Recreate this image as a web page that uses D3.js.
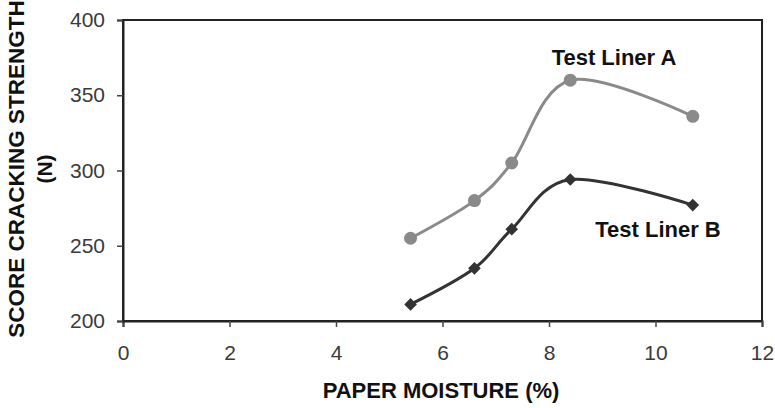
<!DOCTYPE html>
<html>
<head>
<meta charset="utf-8">
<script src="https://cdn.jsdelivr.net/npm/d3@7"></script>
<style>
  body { margin: 0; background: #fff; }
  svg { font-family: "Liberation Sans", Arial, sans-serif; }
</style>
</head>
<body>
<div class="chart"></div>
<script>
// data
const moisture = [5.4, 6.6, 7.3, 8.4, 10.7];
const linerA = [255, 280, 305, 360, 336];
const linerB = [211, 235, 261, 294, 277];
const xTicks = [0, 2, 4, 6, 8, 10, 12];
const yTicks = [200, 250, 300, 350, 400];

const width = 775, height = 408;
const margin = { top: 20, right: 13, bottom: 87, left: 123 };

const svg = d3.select('.chart').append('svg')
    .attr('width', width)
    .attr('height', height);

const xScale = d3.scaleLinear()
    .domain([0, 12])
    .range([margin.left, width - margin.right]);

const yScale = d3.scaleLinear()
    .domain([200, 400])
    .range([height - margin.bottom, margin.top]);

// plot box
svg.append('rect')
    .attr('x', xScale(0))
    .attr('y', yScale(400))
    .attr('width', xScale(12) - xScale(0))
    .attr('height', yScale(200) - yScale(400))
    .attr('fill', 'none')
    .attr('stroke', '#222')
    .attr('stroke-width', 2);

const xAxis = svg.append('g')
    .attr('class', 'x-axis')
    .attr('transform', `translate(0, ${yScale(200)})`)
    .call(d3.axisBottom(xScale).tickValues(xTicks).tickSize(6).tickPadding(18).tickFormat(d3.format('d')));

const yAxis = svg.append('g')
    .attr('class', 'y-axis')
    .attr('transform', `translate(${xScale(0)}, 0)`)
    .call(d3.axisLeft(yScale).tickValues(yTicks).tickSize(6).tickPadding(12).tickFormat(d3.format('d')));

[xAxis, yAxis].forEach(g => {
    g.select('.domain').attr('stroke', '#222').attr('stroke-width', 2);
    g.selectAll('.tick line').attr('stroke', '#444').attr('stroke-width', 1.5);
    g.selectAll('.tick text')
        .attr('fill', '#3a3a3a')
        .style('font-size', '21px');
});

const pts = s => moisture.map((m, i) => [m, s[i]]);

const line = d3.line()
    .x(d => xScale(d[0]))
    .y(d => yScale(d[1]))
    .curve(d3.curveCardinal.tension(0));

// Test Liner A
svg.append('path')
    .datum(pts(linerA))
    .attr('d', line)
    .attr('fill', 'none')
    .attr('stroke', '#8a8a8a')
    .attr('stroke-width', 3);

svg.selectAll('.pt-a')
    .data(pts(linerA))
    .join('circle')
    .attr('class', 'pt-a')
    .attr('cx', d => xScale(d[0]))
    .attr('cy', d => yScale(d[1]))
    .attr('r', 6.5)
    .attr('fill', '#8a8a8a');

// Test Liner B
svg.append('path')
    .datum(pts(linerB))
    .attr('d', line)
    .attr('fill', 'none')
    .attr('stroke', '#333')
    .attr('stroke-width', 3);

svg.selectAll('.pt-b')
    .data(pts(linerB))
    .join('path')
    .attr('class', 'pt-b')
    .attr('transform', d => `translate(${xScale(d[0])}, ${yScale(d[1])}) rotate(45)`)
    .attr('d', d3.symbol(d3.symbolSquare, 80))
    .attr('fill', '#333');

// series labels
svg.append('text')
    .attr('x', 614)
    .attr('y', 65)
    .attr('text-anchor', 'middle')
    .style('font-size', '22px')
    .style('font-weight', 'bold')
    .attr('fill', '#111')
    .text('Test Liner A');

svg.append('text')
    .attr('x', 658)
    .attr('y', 237)
    .attr('text-anchor', 'middle')
    .style('font-size', '22px')
    .style('font-weight', 'bold')
    .attr('fill', '#111')
    .text('Test Liner B');

// axis titles
svg.append('text')
    .attr('x', 441)
    .attr('y', 398)
    .attr('text-anchor', 'middle')
    .style('font-size', '22px')
    .style('font-weight', 'bold')
    .attr('fill', '#111')
    .text('PAPER MOISTURE (%)');

svg.append('text')
    .attr('transform', 'translate(24, 169) rotate(-90)')
    .attr('text-anchor', 'middle')
    .style('font-size', '22.5px')
    .style('font-weight', 'bold')
    .attr('fill', '#111')
    .text('SCORE CRACKING STRENGTH');

svg.append('text')
    .attr('transform', 'translate(52, 169) rotate(-90)')
    .attr('text-anchor', 'middle')
    .style('font-size', '21px')
    .style('font-weight', 'bold')
    .attr('fill', '#111')
    .text('(N)');
</script>
</body>
</html>
